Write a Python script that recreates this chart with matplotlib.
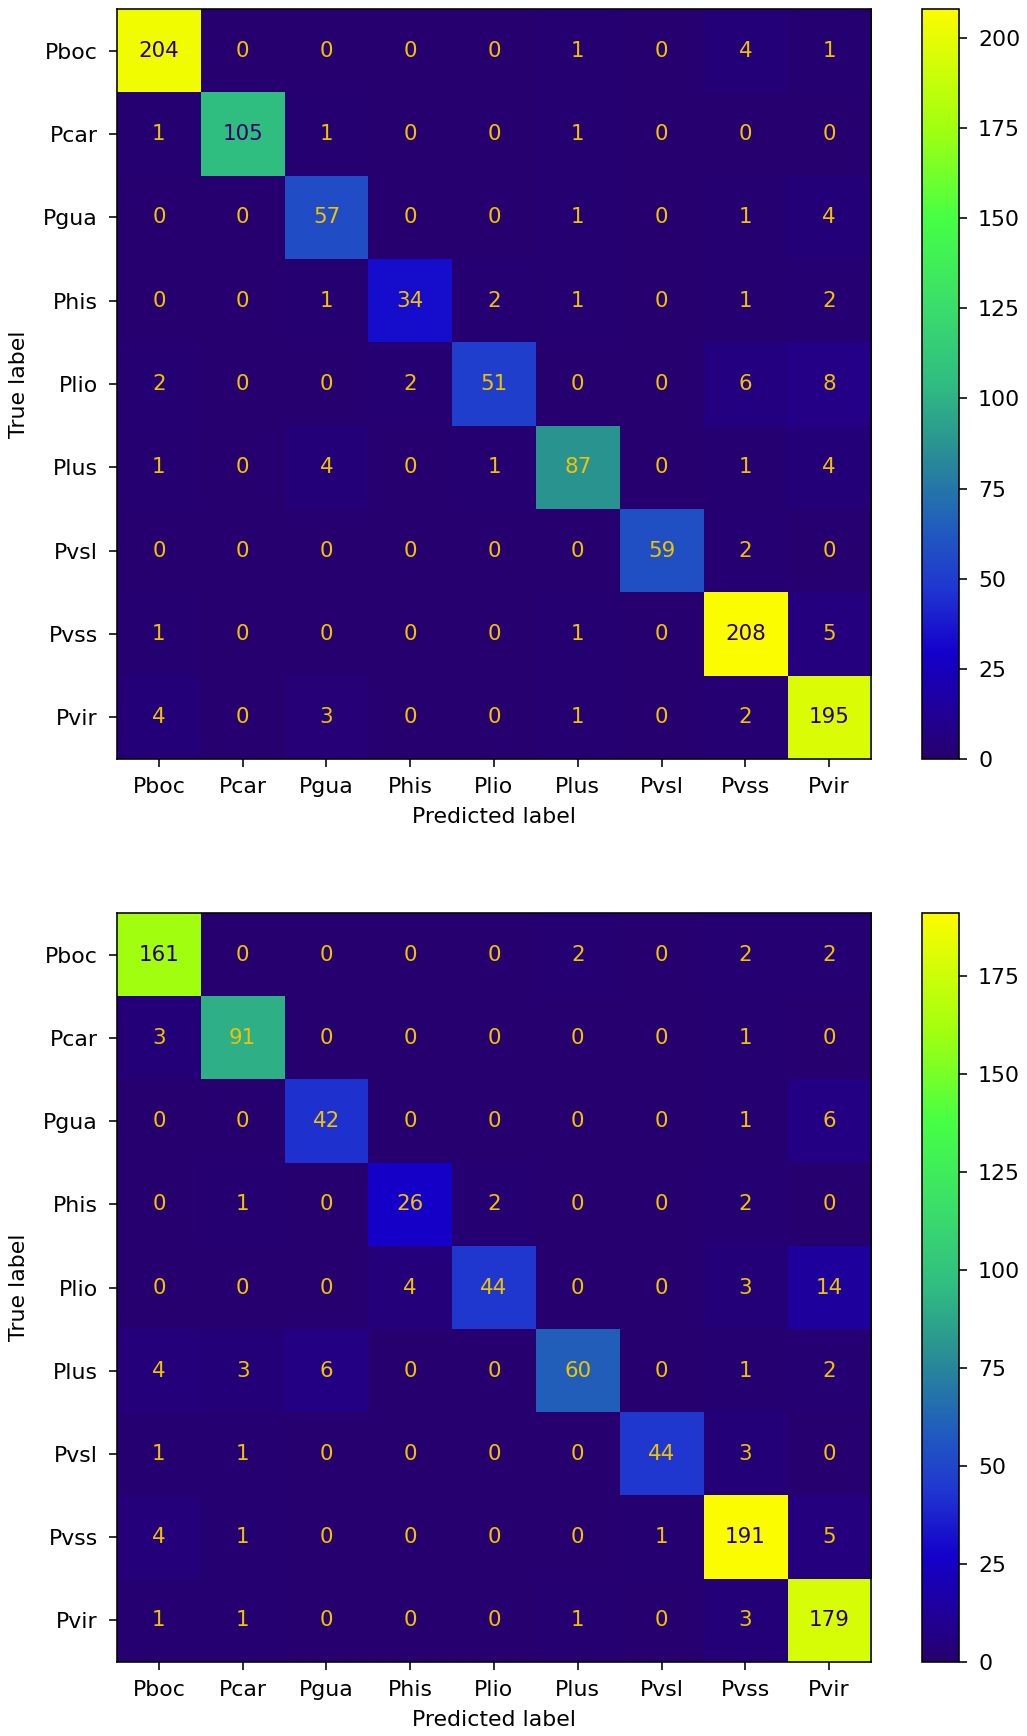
import numpy as np
import matplotlib
matplotlib.use("Agg")
import matplotlib.pyplot as plt
from matplotlib.colors import LinearSegmentedColormap

labels = ["Pboc", "Pcar", "Pgua", "Phis", "Plio", "Plus", "Pvsl", "Pvss", "Pvir"]

cm_top = np.array([
    [204, 0, 0, 0, 0, 1, 0, 4, 1],
    [1, 105, 1, 0, 0, 1, 0, 0, 0],
    [0, 0, 57, 0, 0, 1, 0, 1, 4],
    [0, 0, 1, 34, 2, 1, 0, 1, 2],
    [2, 0, 0, 2, 51, 0, 0, 6, 8],
    [1, 0, 4, 0, 1, 87, 0, 1, 4],
    [0, 0, 0, 0, 0, 0, 59, 2, 0],
    [1, 0, 0, 0, 0, 1, 0, 208, 5],
    [4, 0, 3, 0, 0, 1, 0, 2, 195],
])

cm_bottom = np.array([
    [161, 0, 0, 0, 0, 2, 0, 2, 2],
    [3, 91, 0, 0, 0, 0, 0, 1, 0],
    [0, 0, 42, 0, 0, 0, 0, 1, 6],
    [0, 1, 0, 26, 2, 0, 0, 2, 0],
    [0, 0, 0, 4, 44, 0, 0, 3, 14],
    [4, 3, 6, 0, 0, 60, 0, 1, 2],
    [1, 1, 0, 0, 0, 0, 44, 3, 0],
    [4, 1, 0, 0, 0, 0, 1, 191, 5],
    [1, 1, 0, 0, 0, 1, 0, 3, 179],
])

# colour ramp as it looks in the picture (a saturated viridis)
cmap = LinearSegmentedColormap.from_list("cm", [
    (0.00, "#26006e"),
    (0.05, "#220090"),
    (0.14, "#1400cc"),
    (0.23, "#2038d0"),
    (0.30, "#2058c0"),
    (0.42, "#2a9490"),
    (0.50, "#30bc82"),
    (0.60, "#3adc6c"),
    (0.72, "#45ff45"),
    (0.84, "#a0ff10"),
    (1.00, "#fcfc00"),
])

low_txt = "#f0c400"
high_txt = "#26006e"

plt.rcParams["font.size"] = 11
plt.rcParams["xtick.major.size"] = 4
plt.rcParams["ytick.major.size"] = 4
plt.rcParams["xtick.major.pad"] = 5
plt.rcParams["ytick.major.pad"] = 5.5

fig = plt.figure(figsize=(1027 / 144, 1736 / 144), dpi=144)

W, H = 1027.0, 1736.0
panels = [
    (cm_top, 9, 759),
    (cm_bottom, 913, 1662),
]

for cm, top, bot in panels:
    ax = fig.add_axes([117 / W, 1 - bot / H, 754 / W, (bot - top) / H])
    im = ax.imshow(cm, cmap=cmap, interpolation="nearest",
                   vmin=cm.min(), vmax=cm.max())
    thresh = (cm.max() + cm.min()) / 2.0
    for i in range(cm.shape[0]):
        for j in range(cm.shape[1]):
            c = high_txt if cm[i, j] >= thresh else low_txt
            ax.text(j, i, str(cm[i, j]), ha="center", va="center",
                    color=c, fontsize=10.7)
    ax.set_xticks(range(len(labels)))
    ax.set_xticklabels(labels)
    ax.set_yticks(range(len(labels)))
    ax.set_yticklabels(labels)
    ax.set_xlabel("Predicted label", labelpad=5)
    ax.set_ylabel("True label", labelpad=7)
    ax.set_aspect("auto")

    cax = fig.add_axes([922 / W, 1 - bot / H, 37 / W, (bot - top) / H])
    cb = fig.colorbar(im, cax=cax)
    cb.set_ticks(np.arange(0, cm.max() + 1, 25))

fig.savefig("out.png", dpi=144)
